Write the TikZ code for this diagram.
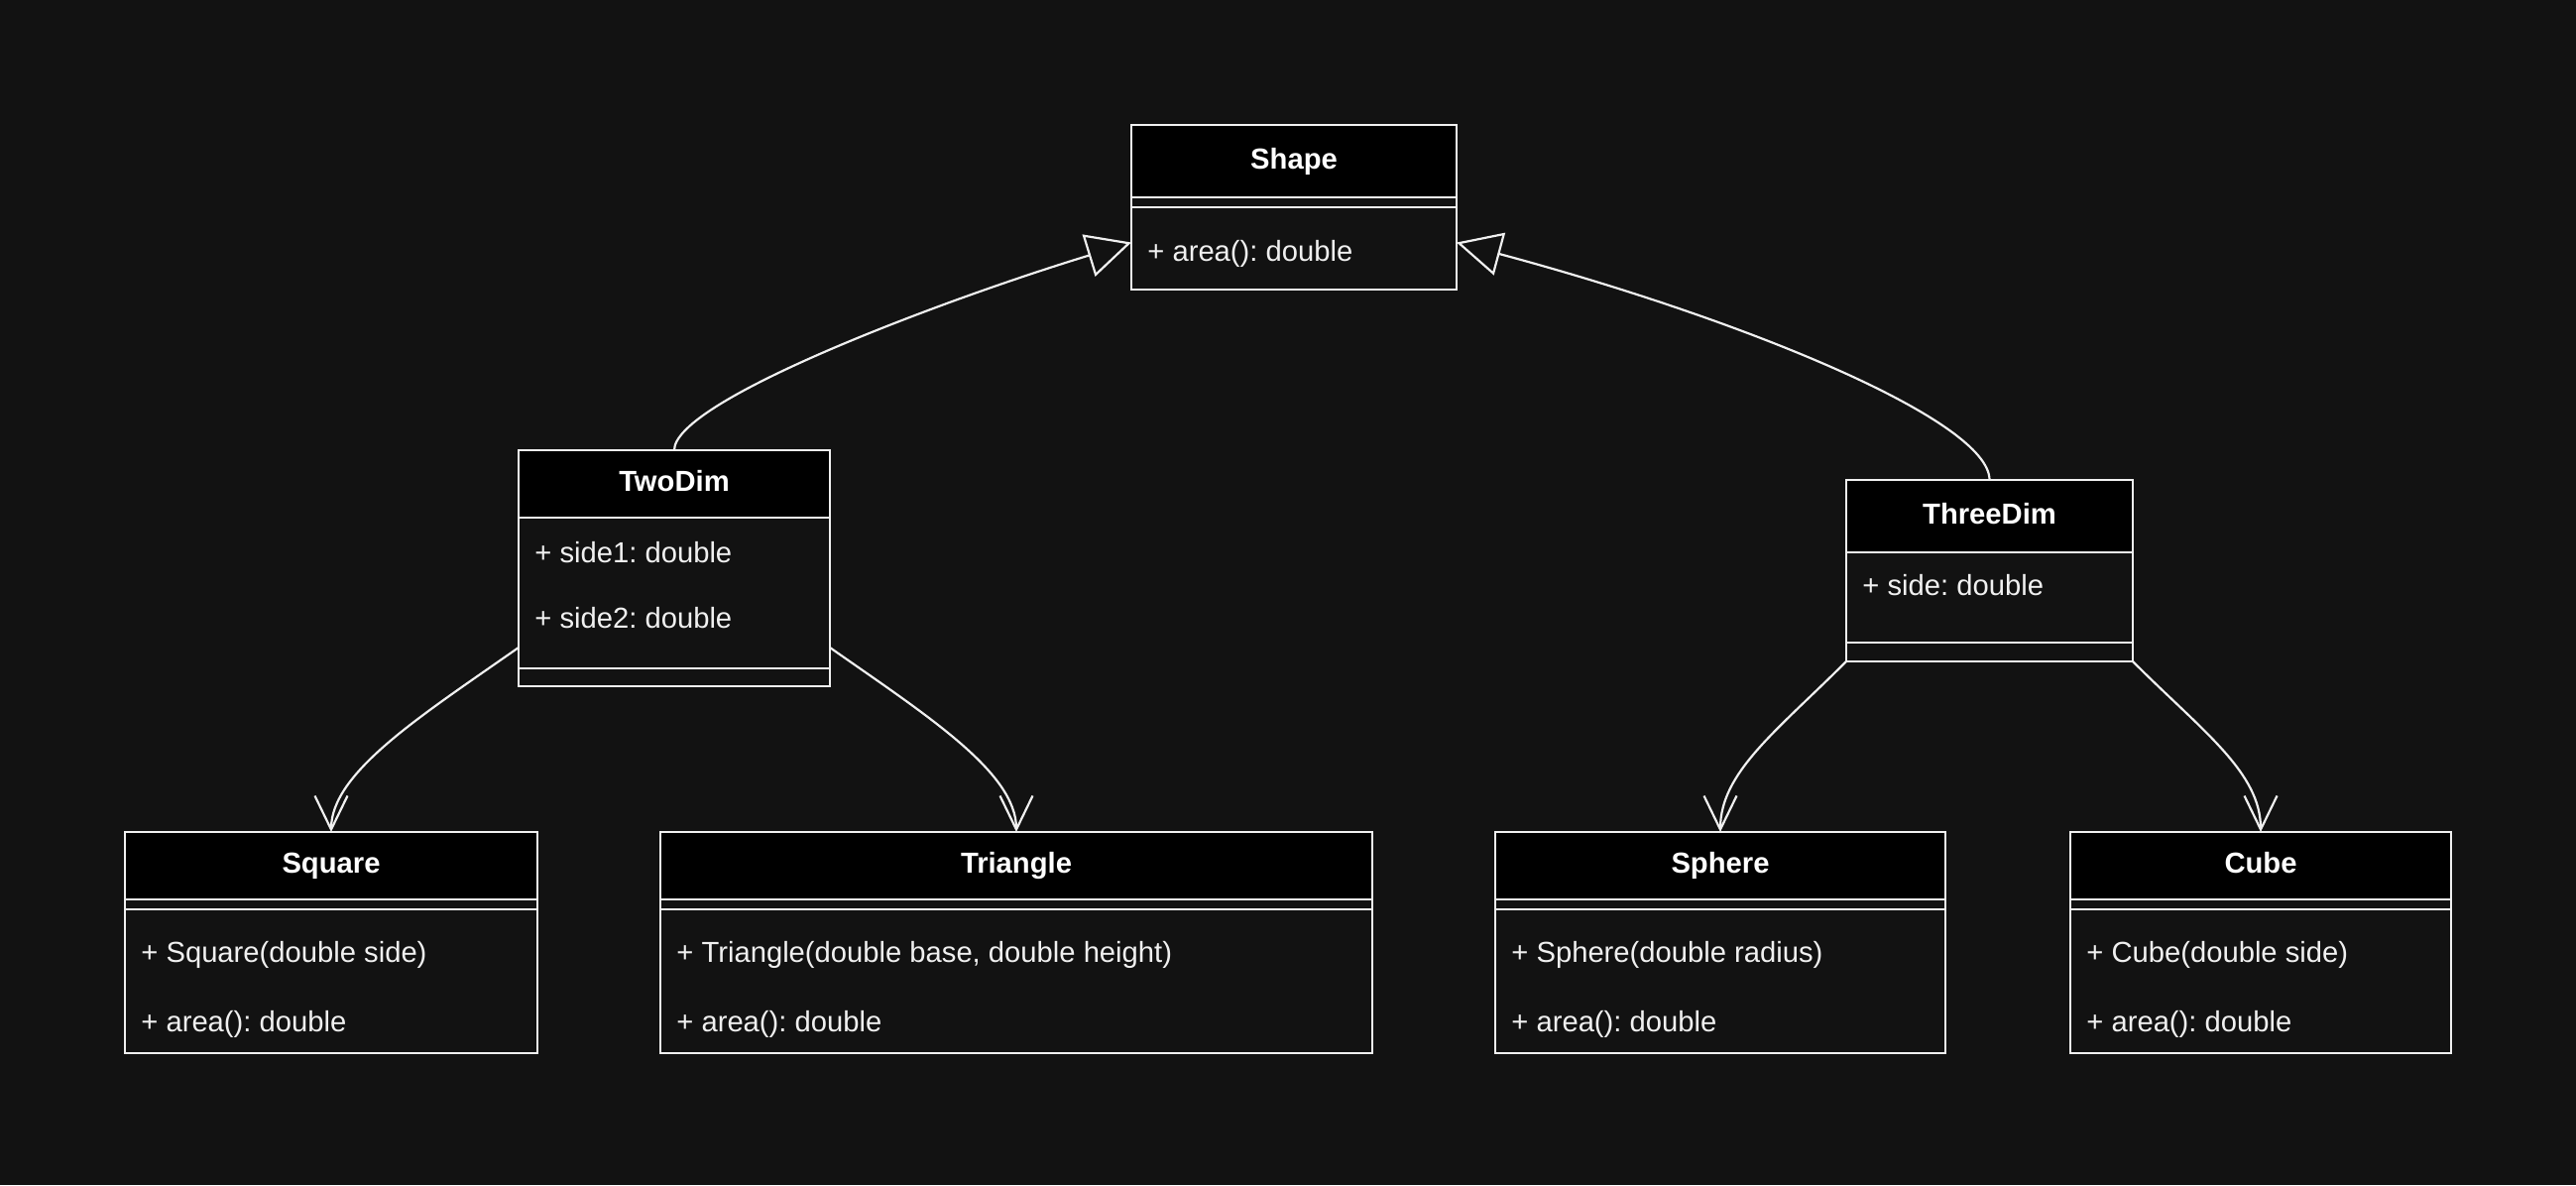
\documentclass[tikz,border=0pt]{standalone}
\usepackage{fontspec}
\setmainfont{Liberation Sans}
\usetikzlibrary{arrows.meta,positioning}
\definecolor{bgdark}{HTML}{121212}
\definecolor{linelight}{HTML}{F0F0F0}
\frenchspacing
\begin{document}
\begin{tikzpicture}[x=1pt,y=1pt,
  classhead/.style={draw=linelight,line width=1.2pt,fill=black,text=white,font=\fontsize{14.6}{17}\selectfont\bfseries,inner sep=0pt,outer sep=0pt,text height=10.5pt,text depth=3pt,anchor=north},
  classpart/.style={draw=linelight,line width=1.2pt,fill=bgdark,inner sep=0pt,outer sep=0pt,anchor=north},
  member/.style={text=linelight,font=\fontsize{14.6}{17}\selectfont,inner sep=0pt,text height=10.5pt,text depth=3pt,anchor=west,yshift=-1.5pt},
  extends/.style={draw=linelight,line width=1.1pt,-{Triangle[open,length=22.5pt,width=22pt]}},
  assoc/.style={draw=linelight,line width=1.1pt,-{Straight Barb[length=17pt,width=16.5pt]}}]
\fill[bgdark] (0,0) rectangle (1299,-597.5);
\useasboundingbox (0,0) rectangle (1299,-597.5);

\node[classhead,minimum width=164pt,minimum height=36.5pt] (shape) at (652.5,-63) {Shape};
\node[classpart,minimum width=164pt,minimum height=5pt,below=0pt of shape] (shapeattr) {};
\node[classpart,minimum width=164pt,minimum height=41.5pt,below=0pt of shapeattr] (shapeops) {};
\node[member] (shapearea) at (578.5,-126.5) {+ area(): double};

\node[classhead,minimum width=157pt,minimum height=34pt] (twodim) at (340,-227) {TwoDim};
\node[classpart,minimum width=157pt,minimum height=76pt,below=0pt of twodim] (twodimattr) {};
\node[classpart,minimum width=157pt,minimum height=9pt,below=0pt of twodimattr] (twodimops) {};
\node[member] (twodimsidea) at (269.5,-278.5) {+ side1: double};
\node[member] (twodimsideb) at (269.5,-311.5) {+ side2: double};

\node[classhead,minimum width=144.5pt,minimum height=36.5pt] (threedim) at (1003.25,-242) {ThreeDim};
\node[classpart,minimum width=144.5pt,minimum height=45.5pt,below=0pt of threedim] (threedimattr) {};
\node[classpart,minimum width=144.5pt,minimum height=9.5pt,below=0pt of threedimattr] (threedimops) {};
\node[member] (threedimside) at (939,-295) {+ side: double};

\node[classhead,minimum width=208pt,minimum height=34pt] (square) at (167,-419.5) {Square};
\node[classpart,minimum width=208pt,minimum height=5pt,below=0pt of square] (squareattr) {};
\node[classpart,minimum width=208pt,minimum height=72.5pt,below=0pt of squareattr] (squareops) {};
\node[member] (squarenew) at (71,-480) {+ Square(double side)};
\node[member] (squarearea) at (71,-515) {+ area(): double};

\node[classhead,minimum width=359pt,minimum height=34pt] (triangle) at (512.5,-419.5) {Triangle};
\node[classpart,minimum width=359pt,minimum height=5pt,below=0pt of triangle] (triangleattr) {};
\node[classpart,minimum width=359pt,minimum height=72.5pt,below=0pt of triangleattr] (triangleops) {};
\node[member] (trianglenew) at (341,-480) {+ Triangle(double base, double height)};
\node[member] (trianglearea) at (341,-515) {+ area(): double};

\node[classhead,minimum width=227pt,minimum height=34pt] (sphere) at (867.5,-419.5) {Sphere};
\node[classpart,minimum width=227pt,minimum height=5pt,below=0pt of sphere] (sphereattr) {};
\node[classpart,minimum width=227pt,minimum height=72.5pt,below=0pt of sphereattr] (sphereops) {};
\node[member] (spherenew) at (762,-480) {+ Sphere(double radius)};
\node[member] (spherearea) at (762,-515) {+ area(): double};

\node[classhead,minimum width=192pt,minimum height=34pt] (cube) at (1140,-419.5) {Cube};
\node[classpart,minimum width=192pt,minimum height=5pt,below=0pt of cube] (cubeattr) {};
\node[classpart,minimum width=192pt,minimum height=72.5pt,below=0pt of cubeattr] (cubeops) {};
\node[member] (cubenew) at (1052,-480) {+ Cube(double side)};
\node[member] (cubearea) at (1052,-515) {+ area(): double};

\draw[extends] (twodim.north) .. controls +(90:25) and +(197:100) .. ([yshift=3pt]shapeops.west);
\draw[extends] (threedim.north) .. controls +(90:30) and +(-15:150) .. ([yshift=3pt]shapeops.east);
\draw[assoc] ([yshift=10.5pt]twodimattr.south west) .. controls +(215:60) and +(90:30) .. (square.north);
\draw[assoc] ([yshift=10.5pt]twodimattr.south east) .. controls +(-35:60) and +(90:30) .. (triangle.north);
\draw[assoc] (threedimops.south west) .. controls +(225:50) and +(90:30) .. (sphere.north);
\draw[assoc] (threedimops.south east) .. controls +(-45:50) and +(90:30) .. (cube.north);
\end{tikzpicture}
\end{document}
